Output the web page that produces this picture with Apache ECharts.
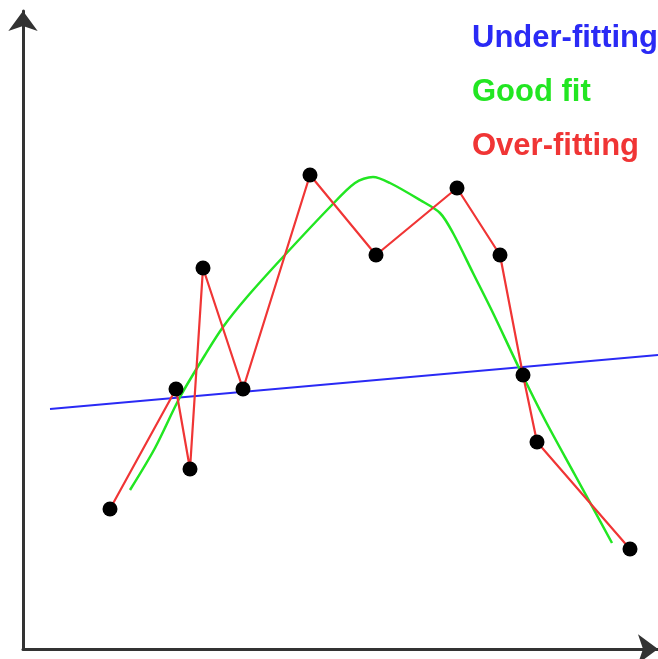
<!DOCTYPE html>
<html>
<head>
<meta charset="utf-8">
<script src="https://cdn.jsdelivr.net/npm/echarts@6/dist/echarts.min.js"></script>
<style>html,body{margin:0;padding:0;background:#fff}#c{width:658px;height:659px}</style>
</head>
<body>
<div id="c"></div>
<script>
const sampleX = [87, 153, 167, 180, 220, 287, 353, 434, 477, 500, 514, 607];
const sampleY = [140, 260, 180, 381, 260, 474, 394, 461, 394, 274, 207, 100];
// Under-fitting: straight line
const underX = [27, 635];
const underY = [240, 294];
// Good fit: smooth curve
const goodX = [107, 132, 157, 182, 200, 224, 260, 307, 332, 350, 367, 397, 417, 430, 450, 470, 497, 522, 552, 589];
const goodY = [159, 201, 252, 294, 322, 352, 392, 442, 466, 472, 466, 449, 436, 416, 376, 336, 279, 229, 174, 106];
const labels = ['Under-fitting', 'Good fit', 'Over-fitting'];
const colors = ['#2a2af5', '#22e622', '#f03535'];

const zip = (a, b) => a.map((v, i) => [v, b[i]]);

const chart = echarts.init(document.getElementById('c'));
const axisCommon = {
  type: 'value', min: 0,
  axisTick: {show: false}, axisLabel: {show: false}, splitLine: {show: false},
  axisLine: {show: true, symbol: ['none', 'arrow'], symbolSize: [22, 20],
    lineStyle: {color: '#333', width: 3}}
};
chart.setOption({
  animation: false,
  grid: {left: 23, right: 0, top: 11, bottom: 10},
  xAxis: Object.assign({}, axisCommon, {max: 635}),
  yAxis: Object.assign({}, axisCommon, {max: 638}),
  graphic: labels.map((t, i) => ({
    type: 'text', left: 472, top: 23 + i * 54,
    style: {text: t, fill: colors[i], font: 'bold 31px "Liberation Sans", Arial, sans-serif'}
  })),
  series: [
    {name: labels[0], type: 'line', data: zip(underX, underY), showSymbol: false, clip: false,
      lineStyle: {color: colors[0], width: 2}, z: 2},
    {name: labels[1], type: 'line', data: zip(goodX, goodY), showSymbol: false, smooth: 0.3,
      lineStyle: {color: colors[1], width: 2.5}, z: 3},
    {name: labels[2], type: 'line', data: zip(sampleX, sampleY), showSymbol: false,
      lineStyle: {color: colors[2], width: 2.2}, z: 4},
    {name: 'samples', type: 'scatter', data: zip(sampleX, sampleY), symbolSize: 15,
      itemStyle: {color: '#000', opacity: 1}, z: 5}
  ]
});
</script>
</body>
</html>
